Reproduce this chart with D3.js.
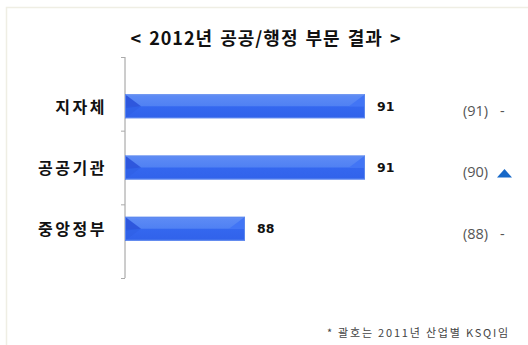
<!DOCTYPE html>
<html>
<head>
<meta charset="utf-8">
<script src="https://cdn.jsdelivr.net/npm/d3@7"></script>
<style>
  html, body { margin: 0; padding: 0; background: #fff; }
  svg { display: block; }
</style>
</head>
<body>
<div id="chart"></div>
<script>
// 2012 public/administration sector results
const categories = ["지자체", "공공기관", "중앙정부"];
const scores2012 = [91, 91, 88];
const scores2011 = [91, 90, 88];
const changeMarks = ["-", "▲", "-"];
const titleText = "< 2012년 공공/행정 부문 결과 >";
const footnoteText = "* 괄호는 2011년 산업별 KSQI임";

const W = 528, H = 345;
const svg = d3.select("#chart").append("svg")
  .attr("width", W).attr("height", H);

const defs = svg.append("defs");
const grad = defs.append("linearGradient")
  .attr("id", "barFace").attr("x1", 0).attr("y1", 0).attr("x2", 0).attr("y2", 1);
grad.append("stop").attr("offset", "0%").attr("stop-color", "#759df6");
grad.append("stop").attr("offset", "8%").attr("stop-color", "#5c8af5");
grad.append("stop").attr("offset", "48%").attr("stop-color", "#5081f3");
grad.append("stop").attr("offset", "52%").attr("stop-color", "#3467ef");
grad.append("stop").attr("offset", "100%").attr("stop-color", "#3162ea");

// panel frame
svg.append("path")
  .attr("d", "M6.5,345 L6.5,7.5 L528,7.5")
  .attr("fill", "none").attr("stroke", "#efeee4").attr("stroke-width", 1.5);

const x = d3.scaleLinear().domain([85, 95]).range([125, 525]);
const y = d3.scaleBand().domain(categories).range([57, 278]).padding(0.61);

// title
svg.append("text")
  .attr("x", 266).attr("y", 45)
  .attr("text-anchor", "middle")
  .attr("font-family", "'Noto Sans CJK KR', sans-serif")
  .attr("font-weight", 700).attr("font-size", 18)
  .attr("letter-spacing", 1)
  .attr("word-spacing", 2)
  .attr("fill", "#111")
  .text(titleText);

// category axis
const axisG = svg.append("g").attr("transform", "translate(125,0)");
axisG.call(d3.axisLeft(d3.scaleLinear().domain([0, 3]).range([57, 278]))
  .ticks(3).tickSize(4).tickFormat(""));
axisG.select(".domain").attr("stroke", "#9a9a9a").attr("d", "M0,57V278");
axisG.selectAll(".tick line").attr("stroke", "#aaa");

// category labels
svg.append("g").selectAll("text").data(categories).join("text")
  .attr("x", 107)
  .attr("y", d => y(d) + y.bandwidth() / 2 + 2)
  .attr("dominant-baseline", "middle")
  .attr("text-anchor", "end")
  .attr("font-family", "'Noto Sans CJK KR', sans-serif")
  .attr("font-weight", 700).attr("font-size", 16)
  .attr("letter-spacing", 2.5)
  .attr("fill", "#111")
  .text(d => d);

// beveled bars
const bars = svg.append("g").selectAll("g").data(categories).join("g");
bars.each(function(d, i) {
  const g = d3.select(this);
  const x0 = x.range()[0], x1 = x(scores2012[i]);
  const y0 = y(d), h = y.bandwidth(), ym = y0 + h / 2;
  const bev = 16;
  g.append("rect")
    .attr("x", x0).attr("y", y0).attr("width", x1 - x0).attr("height", h)
    .attr("fill", "url(#barFace)");
  g.append("path")
    .attr("d", `M${x0},${y0} L${x0 + bev},${ym} L${x0},${ym + 2} Z`)
    .attr("fill", "#2a52da").attr("opacity", 0.9);
  g.append("path")
    .attr("d", `M${x0},${ym} L${x0 + bev},${ym} L${x0},${y0 + h} Z`)
    .attr("fill", "#2f5fe4").attr("opacity", 0.6);
  g.append("path")
    .attr("d", `M${x1},${y0} L${x1 - bev},${ym} L${x1},${ym} Z`)
    .attr("fill", "#4275f5");
  g.append("rect")
    .attr("x", x0 + 0.5).attr("y", y0 + 0.5).attr("width", x1 - x0 - 1).attr("height", h - 1)
    .attr("fill", "none").attr("stroke", "#5a86ee").attr("stroke-width", 1);
});

// value labels
svg.append("g").selectAll("text").data(categories).join("text")
  .attr("x", (d, i) => x(scores2012[i]) + 12)
  .attr("y", d => y(d) + y.bandwidth() / 2 + 1)
  .attr("dominant-baseline", "middle")
  .attr("font-family", "'DejaVu Sans', sans-serif")
  .attr("font-weight", 700).attr("font-size", 12.5)
  .attr("fill", "#111")
  .text((d, i) => scores2012[i]);

// previous-year scores and change marks
const prev = svg.append("g").selectAll("g").data(categories).join("g")
  .attr("transform", d => `translate(0,${y(d) + y.bandwidth() / 2 + 6})`);
prev.append("text")
  .attr("x", 463)
  .attr("dominant-baseline", "middle")
  .attr("font-family", "'Open Sans', sans-serif")
  .attr("font-size", 14.5)
  .attr("fill", "#555")
  .text((d, i) => `(${scores2011[i]})`);
prev.each(function(d, i) {
  const g = d3.select(this);
  if (changeMarks[i] === "▲") {
    g.append("path")
      .attr("d", "M497,4 L504.5,-4.5 L512,4 Z")
      .attr("fill", "#1768c8");
  } else {
    g.append("text")
      .attr("x", 500)
      .attr("dominant-baseline", "middle")
      .attr("font-family", "'Open Sans', sans-serif")
      .attr("font-size", 14.5)
      .attr("fill", "#555")
      .text(changeMarks[i]);
  }
});

// footnote
svg.append("text")
  .attr("x", 510).attr("y", 337)
  .attr("text-anchor", "end")
  .attr("font-family", "'Noto Sans CJK KR', sans-serif")
  .attr("font-size", 11)
  .attr("letter-spacing", 1.8)
  .attr("fill", "#444")
  .text(footnoteText);
</script>
</body>
</html>
